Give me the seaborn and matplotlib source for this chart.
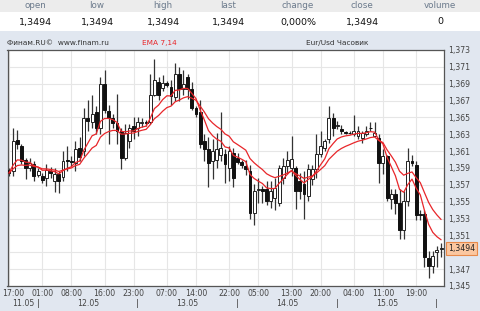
import numpy as np
import pandas as pd
import matplotlib
matplotlib.use("Agg")
import matplotlib.pyplot as plt
import matplotlib.transforms as mtransforms
from matplotlib.patches import Rectangle
import seaborn as sns

# ---------------- data ----------------
hours = list(range(105))  # hourly bars starting 17:00 11.05
opens = [1.3588, 1.3587, 1.3623, 1.3616, 1.3600, 1.3590, 1.3595, 1.3582, 1.3581, 1.3578,
         1.3587, 1.3575, 1.3583, 1.3579, 1.3600, 1.3598, 1.3596, 1.3614, 1.3610, 1.3649,
         1.3645, 1.3657, 1.3637, 1.3690, 1.3658, 1.3649, 1.3643, 1.3634, 1.3602, 1.3622,
         1.3640, 1.3637, 1.3643, 1.3644, 1.3645, 1.3677, 1.3692, 1.3685, 1.3691, 1.3686,
         1.3674, 1.3702, 1.3684, 1.3698, 1.3684, 1.3661, 1.3657, 1.3622, 1.3612, 1.3598,
         1.3600, 1.3606, 1.3607, 1.3590, 1.3608, 1.3602, 1.3597, 1.3592, 1.3587, 1.3537,
         1.3564, 1.3565, 1.3565, 1.3551, 1.3554, 1.3548, 1.3578, 1.3592, 1.3590, 1.3590,
         1.3575, 1.3571, 1.3557, 1.3577, 1.3589, 1.3607, 1.3614, 1.3624, 1.3649, 1.3640,
         1.3636, 1.3633, 1.3632, 1.3630, 1.3628, 1.3626, 1.3630, 1.3638, 1.3628, 1.3625,
         1.3596, 1.3604, 1.3553, 1.3559, 1.3548, 1.3516, 1.3551, 1.3598, 1.3594, 1.3536,
         1.3536, 1.3483, 1.3474, 1.3490, 1.3494]
highs = [1.3590, 1.3637, 1.3635, 1.3618, 1.3602, 1.3602, 1.3598, 1.3590, 1.3584, 1.3595,
         1.3591, 1.3590, 1.3587, 1.3610, 1.3616, 1.3604, 1.3622, 1.3627, 1.3661, 1.3671,
         1.3677, 1.3663, 1.3698, 1.3706, 1.3665, 1.3654, 1.3678, 1.3637, 1.3642, 1.3642,
         1.3651, 1.3651, 1.3649, 1.3647, 1.3701, 1.3719, 1.3698, 1.3700, 1.3693, 1.3695,
         1.3714, 1.3710, 1.3706, 1.3702, 1.3692, 1.3663, 1.3671, 1.3630, 1.3627, 1.3625,
         1.3631, 1.3657, 1.3612, 1.3616, 1.3614, 1.3608, 1.3600, 1.3600, 1.3593, 1.3571,
         1.3578, 1.3569, 1.3575, 1.3575, 1.3578, 1.3593, 1.3602, 1.3610, 1.3628, 1.3592,
         1.3584, 1.3586, 1.3595, 1.3594, 1.3630, 1.3634, 1.3625, 1.3663, 1.3655, 1.3646,
         1.3641, 1.3634, 1.3634, 1.3653, 1.3640, 1.3634, 1.3640, 1.3644, 1.3645, 1.3630,
         1.3612, 1.3606, 1.3565, 1.3565, 1.3565, 1.3563, 1.3614, 1.3605, 1.3598, 1.3540,
         1.3540, 1.3492, 1.3492, 1.3497, 1.3501]
lows = [1.3580, 1.3581, 1.3612, 1.3595, 1.3577, 1.3587, 1.3575, 1.3579, 1.3572, 1.3569,
        1.3578, 1.3562, 1.3560, 1.3575, 1.3587, 1.3592, 1.3587, 1.3598, 1.3604, 1.3634,
        1.3637, 1.3630, 1.3630, 1.3655, 1.3619, 1.3637, 1.3619, 1.3589, 1.3600, 1.3614,
        1.3625, 1.3628, 1.3639, 1.3640, 1.3642, 1.3675, 1.3671, 1.3681, 1.3686, 1.3665,
        1.3669, 1.3669, 1.3677, 1.3672, 1.3659, 1.3650, 1.3614, 1.3598, 1.3567, 1.3577,
        1.3590, 1.3598, 1.3572, 1.3574, 1.3567, 1.3595, 1.3590, 1.3582, 1.3530, 1.3522,
        1.3549, 1.3549, 1.3546, 1.3543, 1.3540, 1.3545, 1.3571, 1.3583, 1.3581, 1.3541,
        1.3553, 1.3530, 1.3551, 1.3570, 1.3578, 1.3603, 1.3610, 1.3620, 1.3628, 1.3636,
        1.3630, 1.3630, 1.3630, 1.3628, 1.3625, 1.3620, 1.3628, 1.3634, 1.3628, 1.3572,
        1.3583, 1.3551, 1.3541, 1.3535, 1.3506, 1.3506, 1.3545, 1.3592, 1.3528, 1.3528,
        1.3472, 1.3460, 1.3466, 1.3473, 1.3484]
closes = [1.3584, 1.3622, 1.3618, 1.3598, 1.3590, 1.3596, 1.3581, 1.3586, 1.3576, 1.3588,
          1.3584, 1.3583, 1.3575, 1.3598, 1.3598, 1.3597, 1.3612, 1.3603, 1.3649, 1.3646,
          1.3654, 1.3637, 1.3690, 1.3659, 1.3649, 1.3643, 1.3634, 1.3602, 1.3631, 1.3637,
          1.3634, 1.3645, 1.3644, 1.3643, 1.3677, 1.3695, 1.3677, 1.3691, 1.3689, 1.3675,
          1.3702, 1.3684, 1.3690, 1.3684, 1.3661, 1.3654, 1.3619, 1.3612, 1.3596, 1.3610,
          1.3612, 1.3614, 1.3595, 1.3610, 1.3578, 1.3597, 1.3593, 1.3589, 1.3537, 1.3563,
          1.3565, 1.3563, 1.3551, 1.3563, 1.3566, 1.3590, 1.3592, 1.3600, 1.3601, 1.3563,
          1.3563, 1.3559, 1.3589, 1.3589, 1.3607, 1.3616, 1.3622, 1.3649, 1.3637, 1.3641,
          1.3634, 1.3632, 1.3631, 1.3634, 1.3634, 1.3631, 1.3634, 1.3637, 1.3631, 1.3596,
          1.3604, 1.3555, 1.3559, 1.3548, 1.3516, 1.3551, 1.3598, 1.3596, 1.3534, 1.3534,
          1.3484, 1.3474, 1.3485, 1.3493, 1.3494]

tick_hours = [0, 8, 15, 23, 30, 38, 45, 53, 60, 68, 75, 83, 90, 98]
tick_labels = ["17:00", "01:00", "08:00", "16:00", "23:00", "07:00", "14:00",
               "22:00", "05:00", "13:00", "20:00", "04:00", "11:00", "19:00"]
day_starts = [7, 31, 55, 79, 103]
day_labels = ["11.05", "12.05", "13.05", "14.05", "15.05"]
price_ticks = [1.345, 1.347, 1.349, 1.351, 1.353, 1.355, 1.357, 1.359,
               1.361, 1.363, 1.365, 1.367, 1.369, 1.371, 1.373]
header_names = ["open", "low", "high", "last", "change", "close", "volume"]
header_values = ["1,3494", "1,3494", "1,3494", "1,3494", "0,000%", "1,3494", "0"]
last_price = 1.3494

# ---------------- figure ----------------
sns.set_style("white")
plt.rcParams['font.family'] = ['DejaVu Sans']
W, H = 480, 311
BG = "#e1e7f0"
fig = plt.figure(figsize=(W / 100, H / 100), dpi=100, facecolor=BG)

# header table
fig.patches.append(Rectangle((0, 1 - 12 / H), 1, 12 / H, transform=fig.transFigure,
                             facecolor="#ececec", edgecolor="none", zorder=0))
fig.patches.append(Rectangle((0, 1 - 31 / H), 1, 19 / H, transform=fig.transFigure,
                             facecolor="white", edgecolor="none", zorder=0))
col_x = [35, 97, 163, 228, 298, 362, 440]
for cx, name, val in zip(col_x, header_names, header_values):
    fig.text(cx / W, 1 - 6 / H, name, ha="center", va="center", fontsize=6.3,
             color="#6b7a8c")
    fig.text(cx / W, 1 - 22 / H, val, ha="center", va="center", fontsize=6.8,
             color="#111111")

# chart titles
fig.text(7 / W, 1 - 43 / H, "Финам.RU©  www.finam.ru", ha="left", va="center",
         fontsize=5.3, color="#333333")
fig.text(142 / W, 1 - 43 / H, "EMA 7,14", ha="left", va="center",
         fontsize=5.3, color="#e8262a")
fig.text(306 / W, 1 - 43 / H, "Eur/Usd Часовик", ha="left", va="center",
         fontsize=5.3, color="#333333")

left, right, top, bottom = 7.5, 444, 50, 286
ax = fig.add_axes([left / W, 1 - bottom / H, (right - left) / W, (bottom - top) / H])
ax.set_facecolor("white")

df = pd.DataFrame({"hour": hours, "open": opens, "high": highs,
                   "low": lows, "close": closes})
df["ema7"] = df["close"].ewm(span=7, adjust=False).mean()
df["ema14"] = df["close"].ewm(span=14, adjust=False).mean()

# grid
for p in price_ticks:
    ax.axhline(p, color="#e6e6e6", lw=0.8, zorder=0)
for t in tick_hours:
    ax.axvline(t, color="#e6e6e6", lw=0.8, zorder=0)

# candles
up = df["close"] >= df["open"]
ax.vlines(df["hour"], df["low"], df["high"], color="#333333", lw=0.9, zorder=2)
body_lo = np.minimum(df["open"], df["close"])
body_h = np.maximum(np.abs(df["close"] - df["open"]), 0.00006)
ax.bar(df["hour"][up], body_h[up], bottom=body_lo[up], width=0.7,
       color="white", edgecolor="#222222", linewidth=0.7, zorder=3)
ax.bar(df["hour"][~up], body_h[~up], bottom=body_lo[~up], width=0.7,
       color="#111111", edgecolor="#111111", linewidth=0.7, zorder=3)

# EMA lines
sns.lineplot(data=df, x="hour", y="ema7", color="#e8262a", lw=0.9, ax=ax, zorder=4)
sns.lineplot(data=df, x="hour", y="ema14", color="#e8262a", lw=0.9, ax=ax, zorder=4)

ax.set_xlim(-0.36, 104.7)
ax.set_ylim(1.345, 1.37276)
ax.set_xlabel("")
ax.set_ylabel("")

ax.yaxis.tick_right()
ax.set_yticks(price_ticks)
# the 1,349 label is covered by the last-price box in the reference
ax.set_yticklabels(["" if abs(p - 1.349) < 1e-9 else f"{p:.3f}".replace(".", ",")
                    for p in price_ticks])
ax.tick_params(axis="y", length=0, pad=3, labelsize=5.6, labelcolor="#444444")
ax.set_xticks(tick_hours)
ax.set_xticklabels(tick_labels)
ax.tick_params(axis="x", length=0, pad=2.5, labelsize=5.6, labelcolor="#444444")
first = ax.get_xticklabels()[0]
first.set_horizontalalignment("left")
first.set_transform(first.get_transform() +
                    mtransforms.ScaledTranslation(-7 / 100, 0, fig.dpi_scale_trans))

for s in ax.spines.values():
    s.set_color("#555555")
    s.set_linewidth(0.9)

# date labels and separators
trans = mtransforms.blended_transform_factory(ax.transData, fig.transFigure)
bounds = [-0.36] + day_starts
for a, b, lab in zip(bounds[:-1], bounds[1:], day_labels):
    ax.text((a + b) / 2, 1 - 303 / H, lab, transform=trans, ha="center",
            va="center", fontsize=5.6, color="#444444", clip_on=False)
for d in day_starts:
    ax.text(d, 1 - 303 / H, "|", transform=trans, ha="center", va="center",
            fontsize=6, color="#444444", clip_on=False)

# last price box
ytr = mtransforms.blended_transform_factory(fig.transFigure, ax.transData)
ax.text(448 / W, last_price, "1,3494", transform=ytr, ha="left", va="center",
        fontsize=5.6, color="#222222", clip_on=False, zorder=10,
        bbox=dict(boxstyle="square,pad=0.25", facecolor="#fbc7a0",
                  edgecolor="#e88a4a", linewidth=0.8))

fig.savefig("out.png", dpi=100, facecolor=BG)
